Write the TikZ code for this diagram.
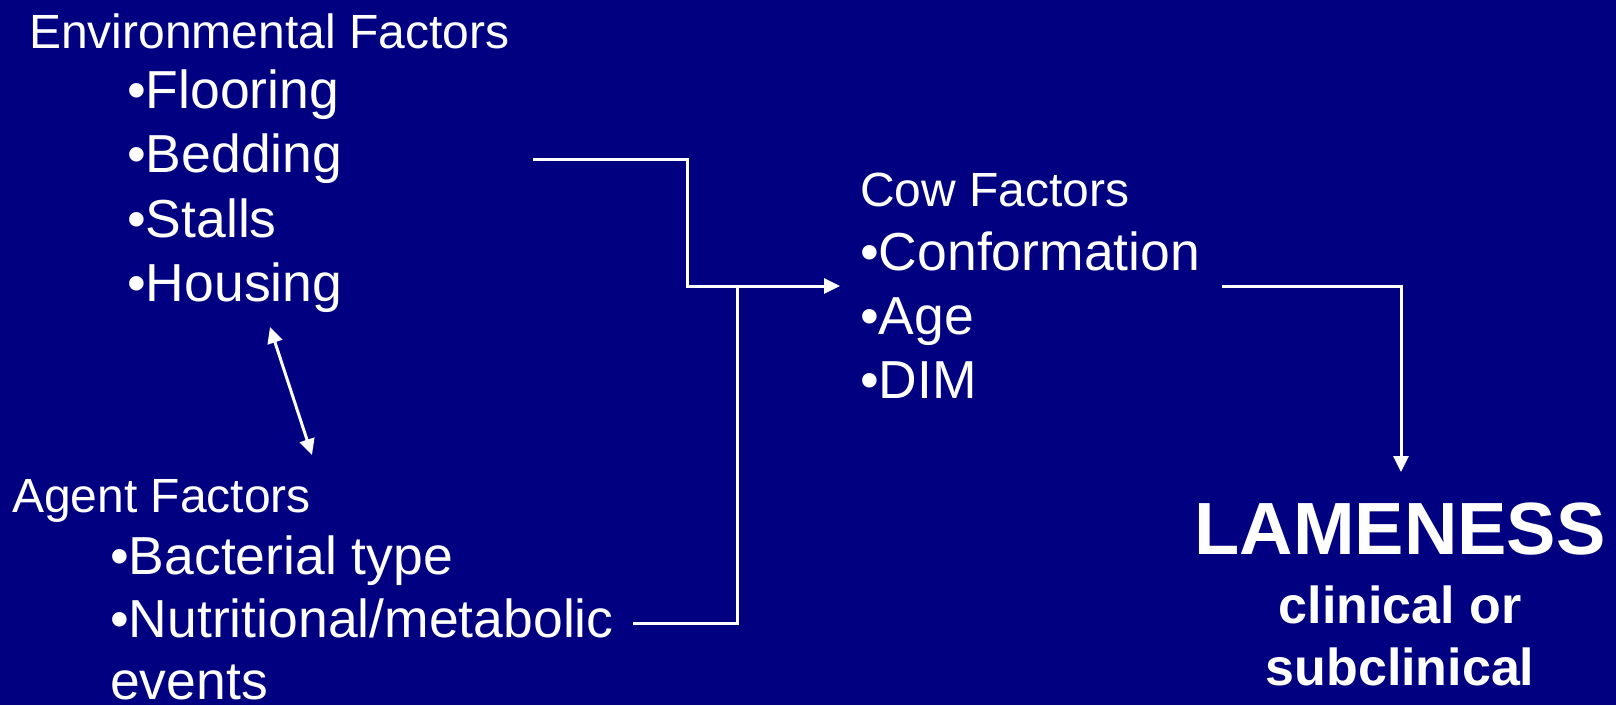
\documentclass[tikz,border=0pt]{standalone}
\usepackage{fontspec}
\setmainfont{Liberation Sans}
\usetikzlibrary{arrows.meta}
\definecolor{slideblue}{RGB}{0,0,128}
\tikzset{
  head/.style={anchor=base west,inner sep=0pt,text=white,font=\fontsize{48}{56}\selectfont},
  item/.style={anchor=base west,inner sep=0pt,text=white,font=\fontsize{53.5}{62}\selectfont},
  conn/.style={draw=white,line width=3pt,-{Triangle[length=16pt,width=15pt]}},
  link/.style={draw=white,line width=3pt}
}
\begin{document}
\begin{tikzpicture}[x=1pt,y=-1pt]
\useasboundingbox[fill=slideblue] (0,0) rectangle (1616,705);
% environmental factors
\node[head] (env) at (29,48) {Environmental Factors};
\node[item] (floor) at (127,108) {•Flooring};
\node[item] (bed) at (127,172) {•Bedding};
\node[item] (stall) at (127,237) {•Stalls};
\node[item] (house) at (127,301) {•Housing};
% agent factors
\node[head] (agent) at (12,512) {Agent Factors};
\node[item] (bact) at (110,574) {•Bacterial type};
\node[item] (nutri) at (110,637) {•Nutritional/metabolic};
\node[item] (events) at (110,699) {events};
% cow factors
\node[head] (cow) at (860,206) {Cow Factors};
\node[item] (conf) at (860,270) {•Conformation};
\node[item] (age) at (860,334) {•Age};
\node[item] (dim) at (860,398) {•DIM};
% outcome
\node[anchor=base,inner sep=0pt,text=white,font=\bfseries\fontsize{74}{88}\selectfont] (lame) at (1400,554) {LAMENESS};
\node[anchor=base,inner sep=0pt,text=white,font=\bfseries\fontsize{52}{62}\selectfont] (clin) at (1400,623) {clinical or};
\node[anchor=base,inner sep=0pt,text=white,font=\bfseries\fontsize{52}{62}\selectfont] (sub) at (1400,685) {subclinical};
% connectors
\coordinate (bedout) at (533,159);
\coordinate (nutout) at (633,623);
\coordinate (merge) at (737,286);
\coordinate (cowin) at (840,286);
\coordinate (confout) at (1222,286);
\coordinate (lamein) at (1401,472);
\coordinate (houseend) at (270,327);
\coordinate (agentend) at (312,455);
\draw[link] (bedout) -- (687,159) -- (687,286) -- (merge);
\draw[link] (nutout) -| (merge);
\draw[conn] (merge) -- (cowin);
\draw[conn] (confout) -| (lamein);
\draw[conn,{Triangle[length=16pt,width=15pt]}-{Triangle[length=16pt,width=15pt]}] (houseend) -- (agentend);
\end{tikzpicture}
\end{document}
